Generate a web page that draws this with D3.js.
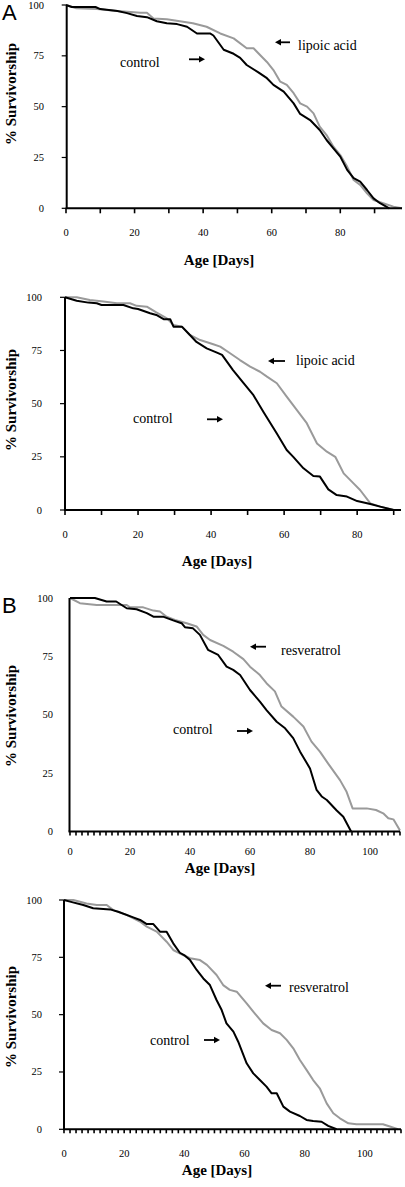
<!DOCTYPE html>
<html>
<head>
<meta charset="utf-8">
<script src="https://cdn.jsdelivr.net/npm/d3@7"></script>
<style>
  html, body { margin: 0; padding: 0; background: #fff; }
  svg { display: block; }
  .serif { font-family: "Liberation Serif", "Times New Roman", "DejaVu Serif", serif; }
  .sans { font-family: "Liberation Sans", Arial, sans-serif; }
</style>
</head>
<body>
<svg id="chart" width="405" height="1187"></svg>
<script>
// ---------- DATA (day, % survivorship) ----------
const yTickValues = [0, 25, 50, 75, 100];
const xLabelsA = [0, 20, 40, 60, 80];
const xLabelsB = [0, 20, 40, 60, 80, 100];

const p1Control = [[0,100],[1.7,99],[8.6,99],[10,98],[15,97],[17.8,96],[20.7,94.6],[23.6,94],[26.5,92],[29.4,91],[32.4,90.6],[35.3,89.3],[38.2,86],[42,86],[43,85],[46,78],[48.9,76],[50.8,74],[52.7,70.5],[56,67],[58.6,64],[60.5,60.7],[63.5,57.4],[66.4,51.6],[68.3,46.4],[71.2,43.4],[74,38.5],[76,33.6],[78,29.5],[80,25.4],[82,18.9],[83.9,14.8],[85.8,13.1],[87.8,9],[89.7,4.9],[91.6,2.5],[94.3,0]];
const p1Lipoic = [[0,100],[3,98.4],[9,98],[15,97],[21.7,96.2],[23.6,96.2],[25.5,93.4],[29.4,93],[33.2,92],[37,91],[41,89.3],[45,86],[48.9,83.6],[52.7,78.7],[54.7,78.7],[56.6,75.4],[58.6,72],[60.5,68],[62.5,62.3],[64.4,60.7],[66.4,56.6],[68.3,51.6],[70.3,50],[72.2,46.7],[74,40.2],[76,36],[78,30.3],[80,26.2],[82,20.5],[83.9,13.9],[85.8,11.5],[87.8,7.4],[89.7,4.1],[92.5,2.5],[95.5,0.8],[98,0]];

const p2Control = [[0,100],[3.2,98.4],[6.4,97.5],[8.7,97.2],[10,96.4],[16,96.4],[18.7,94.8],[20,94.5],[23.3,92.5],[25,91.7],[27,89.7],[28.8,89.7],[29.7,86.2],[32,86.2],[34.2,82.3],[36,79],[38.8,76],[41.6,74],[43,72.9],[46,65.8],[48.9,59.6],[51.6,54],[54.3,46.2],[58,36],[60.7,28.2],[62.5,25],[65.3,19.6],[68,16],[69.8,15.7],[72.1,9.7],[74.4,7],[77.2,6.3],[80,4.2],[83.6,2.8],[86.3,1.6],[90,0]];
const p2Lipoic = [[0,100],[3.2,100],[6.8,98.7],[10.5,98],[14.2,97.2],[17.8,97.2],[19.6,96],[22.4,95.6],[25,92.9],[27.9,90.1],[29.7,87],[32,86.2],[34.2,82.3],[37,79.9],[40.6,77.9],[42.5,76.8],[45.2,73.7],[47.9,70.5],[50.7,67.4],[53.4,65],[55.3,62.7],[58,59.6],[60.7,53.3],[63.5,47],[66.2,40.8],[69,31.3],[71.7,27.4],[74,25],[76.3,17.2],[79,12.5],[80.8,9.4],[83.6,3.1],[86.3,1.6],[90,0]];

const p3Control = [[0,100],[3.3,100],[8.3,100],[12.2,98.5],[15.4,98.5],[18.9,95.6],[22.2,95.2],[25.6,93.5],[27.8,92],[31,92],[34.4,90.4],[37.2,89.2],[38.3,87.5],[41,87],[43.3,84.2],[46,77.8],[49.4,75.6],[52.2,70.6],[54.4,69.2],[56.7,67],[60,60.6],[63.3,55.6],[65.5,52],[68.9,47],[71.7,44.2],[74.4,40],[76.7,34.2],[80,27],[82.2,17.8],[83.9,15],[85.6,13.5],[88.9,9],[91.1,6.3],[93.7,0]];
const p3Resveratrol = [[0,100],[3.3,97.8],[8.9,97],[18.9,97],[20,96],[24.4,96],[27.8,94.6],[30,94.2],[32.2,92],[35,90.6],[38.9,89.2],[42.2,87.8],[44.4,84.2],[46.7,82],[51.1,79.5],[54.4,77],[57.8,73.8],[60,70.6],[63.3,67],[65.5,63.5],[68.3,60],[70.5,53.5],[74.4,49.2],[77.8,45],[80.5,38.5],[83.3,34.2],[86,29.2],[90,22],[92.2,17],[94.2,9.9],[98.9,9.9],[102,9.2],[104.4,7.8],[106.1,5.7],[107.8,5.2],[110,0.4]];

const p4Control = [[0,100],[2,99.3],[6.4,97.8],[9.7,96.4],[15.3,95.9],[18,94.9],[23,92.4],[25.3,91.3],[27.5,89.5],[29.7,89.5],[31.9,86.2],[34.1,86.2],[36.3,81.1],[38.5,77],[40.2,75.7],[41.9,73.8],[44.1,69.5],[46.3,65.8],[48.5,62.9],[50.7,56.4],[52.4,52],[54,46.2],[56.3,42.6],[57.9,38.2],[60.7,28.8],[62.9,24.4],[65.1,21.5],[67.3,18.6],[69,15.7],[70.7,15.7],[72.9,9.9],[75.1,7.7],[78.4,5.8],[80.6,4.1],[82.8,3.6],[85.6,3.3],[87.8,1.5],[90.6,0]];
const p4Resveratrol = [[0,100],[3.1,100],[7.5,98.5],[10.9,97.8],[14.2,97.8],[16.4,95.6],[20.8,93.5],[25.2,90.6],[27.5,88.4],[30.8,86.2],[34.1,81.8],[36.3,78.2],[39.6,76],[41.9,74.6],[45.2,73.8],[47.5,71.7],[50.7,67.3],[52.9,62.9],[55.1,60.8],[57.4,60],[60.7,54.9],[62.9,51.3],[66.2,46.2],[69,43.3],[71.8,41.9],[74,39],[76.2,35.3],[78.4,30.2],[80.6,25.9],[82.8,21.5],[85,17.9],[87.3,11.3],[89.5,7],[91.7,4.8],[94.5,2.6],[97.2,2.2],[106,2.2],[108.3,1.2],[111,0]];

// ---------- LAYOUT ----------
const panels = [
  { control: p1Control, treat: p1Lipoic, treatName: "lipoic acid", xMax: 98, xLabels: xLabelsA, minorStep: 10,
    xr: [66, 402], yr: [208.3, 5], axisX: 66.7, yLabelRight: 44, yTicks: true, xLabelBase: 236, titleX: 219, titleBase: 265,
    yTitleCY: 94, letter: "A", letterBase: 20,
    ctrlText: [120, 67], ctrlArrow: [189, 205, 59.3], trText: [298, 50], trArrow: [290, 275, 42.3] },
  { control: p2Control, treat: p2Lipoic, treatName: "lipoic acid", xMax: 92, xLabels: xLabelsA, minorStep: 10,
    xr: [65, 401], yr: [510, 297.3], axisX: 65, yLabelRight: 42, yTicks: true, xLabelBase: 538, titleX: 217, titleBase: 566,
    yTitleCY: 400, letter: null,
    ctrlText: [133, 423], ctrlArrow: [207, 223, 419.3], trText: [296, 365], trArrow: [285, 268, 361] },
  { control: p3Control, treat: p3Resveratrol, treatName: "resveratrol", xMax: 110, xLabels: xLabelsB, minorStep: 2,
    xr: [70, 400], yr: [831.5, 598], axisX: 69.5, yLabelRight: 53, yTicks: false, xLabelBase: 855, titleX: 220, titleBase: 873,
    yTitleCY: 716, letter: "B", letterBase: 613,
    ctrlText: [173, 734], ctrlArrow: [237, 253, 731], trText: [281, 655], trArrow: [266, 250, 646.7] },
  { control: p4Control, treat: p4Resveratrol, treatName: "resveratrol", xMax: 112, xLabels: xLabelsB, minorStep: 2,
    xr: [64, 401], yr: [1129.3, 900], axisX: 64, yLabelRight: 42, yTicks: true, xLabelBase: 1157, titleX: 217, titleBase: 1175,
    yTitleCY: 1017, letter: null,
    ctrlText: [150, 1045], ctrlArrow: [204, 220, 1040], trText: [289, 992], trArrow: [281, 265, 985.7] }
];

const gray = "#9a9a9a";
const svg = d3.select("#chart");

function arrow(g, x1, x2, y) {
  const dir = x2 > x1 ? 1 : -1;
  const headLen = 6, headHalf = 3.2;
  g.append("line").attr("x1", x1).attr("y1", y).attr("x2", x2 - dir * headLen + dir * 1).attr("y2", y)
    .attr("stroke", "#000").attr("stroke-width", 1.8);
  g.append("path")
    .attr("d", `M${x2},${y} L${x2 - dir * headLen},${y - headHalf} L${x2 - dir * headLen},${y + headHalf} Z`)
    .attr("fill", "#000");
}

panels.forEach(p => {
  const g = svg.append("g");
  const x = d3.scaleLinear().domain([0, p.xMax]).range(p.xr);
  const y = d3.scaleLinear().domain([0, 100]).range(p.yr);

  const minorTicks = d3.range(0, p.xMax + 0.001, p.minorStep);
  g.selectAll(".xt").data(minorTicks).join("line")
    .attr("x1", d => x(d)).attr("x2", d => x(d))
    .attr("y1", y(0)).attr("y2", y(0) + (p.minorStep === 2 ? 4 : 5))
    .attr("stroke", "#000").attr("stroke-width", 1.6);

  if (p.yTicks) {
    g.selectAll(".yt").data(yTickValues).join("line")
      .attr("x1", p.axisX - 5).attr("x2", p.axisX)
      .attr("y1", d => y(d)).attr("y2", d => y(d))
      .attr("stroke", "#000").attr("stroke-width", 1.2);
  }

  g.selectAll(".yl").data(yTickValues).join("text")
    .attr("class", "serif")
    .attr("x", p.yLabelRight).attr("y", d => y(d) + 3.5)
    .attr("text-anchor", "end")
    .attr("font-size", 10.5)
    .text(d => d);

  g.selectAll(".xl").data(p.xLabels).join("text")
    .attr("class", "serif")
    .attr("x", d => x(d)).attr("y", p.xLabelBase)
    .attr("text-anchor", "middle")
    .attr("font-size", 10.5)
    .text(d => d);

  const line = d3.line().x(d => x(d[0])).y(d => y(d[1]));
  g.append("path").datum(p.treat).attr("d", line)
    .attr("fill", "none").attr("stroke", gray).attr("stroke-width", 2).attr("stroke-linejoin", "round");
  g.append("path").datum(p.control).attr("d", line)
    .attr("fill", "none").attr("stroke", "#000").attr("stroke-width", 2).attr("stroke-linejoin", "round");

  g.append("line").attr("x1", p.axisX).attr("x2", p.axisX).attr("y1", y(100)).attr("y2", y(0))
    .attr("stroke", "#000").attr("stroke-width", 2);
  g.append("line").attr("x1", p.axisX - 1).attr("x2", x(p.xMax)).attr("y1", y(0)).attr("y2", y(0))
    .attr("stroke", "#000").attr("stroke-width", 2);

  g.append("text").attr("class", "serif").attr("x", p.titleX).attr("y", p.titleBase)
    .attr("text-anchor", "middle").attr("font-weight", "bold").attr("font-size", 15)
    .text("Age [Days]");
  g.append("text").attr("class", "serif").attr("transform", `translate(16,${p.yTitleCY}) rotate(-90)`)
    .attr("text-anchor", "middle").attr("font-weight", "bold").attr("font-size", 15)
    .text("% Survivorship");

  if (p.letter) {
    g.append("text").attr("class", "sans").attr("x", 2).attr("y", p.letterBase)
      .attr("font-size", 22).text(p.letter);
  }

  g.append("text").attr("class", "serif").attr("x", p.ctrlText[0]).attr("y", p.ctrlText[1])
    .attr("font-size", 14).text("control");
  arrow(g, p.ctrlArrow[0], p.ctrlArrow[1], p.ctrlArrow[2]);
  g.append("text").attr("class", "serif").attr("x", p.trText[0]).attr("y", p.trText[1])
    .attr("font-size", 14).text(p.treatName);
  arrow(g, p.trArrow[0], p.trArrow[1], p.trArrow[2]);
});
</script>
</body>
</html>
